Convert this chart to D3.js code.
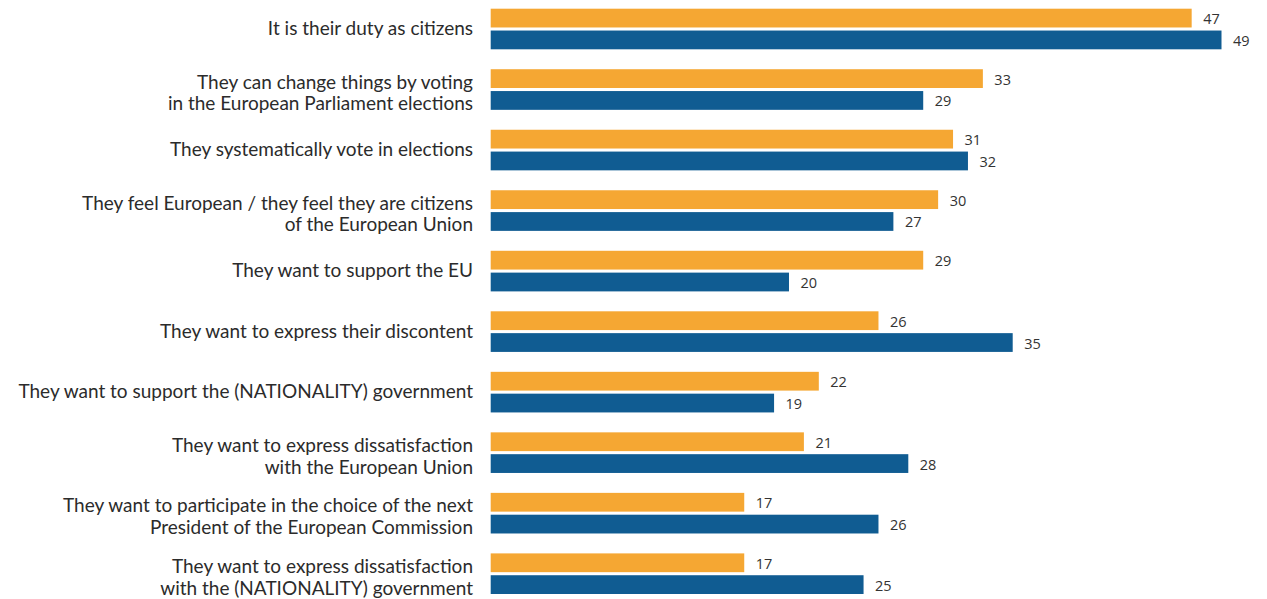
<!DOCTYPE html>
<html>
<head>
<meta charset="utf-8">
<script src="https://cdn.jsdelivr.net/npm/d3@7"></script>
<style>
  html, body { margin: 0; padding: 0; background: #ffffff; }
  svg { display: block; }
</style>
</head>
<body>
<svg id="chart" width="1267" height="599"></svg>
<script>
const categories = [
  ["It is their duty as citizens"],
  ["They can change things by voting", "in the European Parliament elections"],
  ["They systematically vote in elections"],
  ["They feel European / they feel they are citizens", "of the European Union"],
  ["They want to support the EU"],
  ["They want to express their discontent"],
  ["They want to support the (NATIONALITY) government"],
  ["They want to express dissatisfaction", "with the European Union"],
  ["They want to participate in the choice of the next", "President of the European Commission"],
  ["They want to express dissatisfaction", "with the (NATIONALITY) government"]
];
const seriesNames = ["Series A", "Series B"];
const seriesA = [47, 33, 31, 30, 29, 26, 22, 21, 17, 17];
const seriesB = [49, 29, 32, 27, 20, 35, 19, 28, 26, 25];
const seriesColors = ["#F5A733", "#105C92"];

const svg = d3.select("#chart");
const keys = categories.map((c, i) => i);

const y = d3.scaleBand().domain(keys).range([8.7, 594]).paddingInner(0.329).paddingOuter(0);
const ySub = d3.scaleBand().domain(seriesNames).range([0, y.bandwidth()]).paddingInner(0.14);
const x = d3.scaleLinear().domain([0, 49]).range([490.7, 1221.5]);

const data = keys.map(i => ({ i, values: [seriesA[i], seriesB[i]] }));

const groups = svg.selectAll("g.group").data(data).join("g")
  .attr("class", "group")
  .attr("transform", d => `translate(0,${y(d.i)})`);

groups.selectAll("rect").data(d => d.values.map((v, k) => ({ v, k }))).join("rect")
  .attr("x", x(0))
  .attr("y", d => ySub(seriesNames[d.k]))
  .attr("width", d => x(d.v) - x(0))
  .attr("height", ySub.bandwidth())
  .attr("fill", d => seriesColors[d.k]);

groups.selectAll("text.val").data(d => d.values.map((v, k) => ({ v, k }))).join("text")
  .attr("class", "val")
  .attr("x", d => x(d.v) + 11.5)
  .attr("y", d => ySub(seriesNames[d.k]) + ySub.bandwidth() / 2 + 6)
  .attr("font-family", "'Open Sans', sans-serif")
  .attr("font-size", 14.5)
  .attr("fill", "#333")
  .text(d => d.v);

const lineOffsets = [10, 10];

groups.each(function(d) {
  const g = d3.select(this);
  const lines = categories[d.i];
  const t = g.append("text")
    .attr("text-anchor", "end")
    .attr("font-family", "Lato, sans-serif")
    .attr("font-size", 19)
    .attr("fill", "#2b2b2b");
  if (lines.length === 1) {
    t.append("tspan").attr("x", 473).attr("y", y.bandwidth() / 2 + 6).text(lines[0]);
  } else {
    lines.forEach((ln, k) => {
      t.append("tspan").attr("x", 473)
        .attr("y", ySub(seriesNames[k]) + ySub.bandwidth() / 2 + lineOffsets[k])
        .text(ln);
    });
  }
});
</script>
</body>
</html>
